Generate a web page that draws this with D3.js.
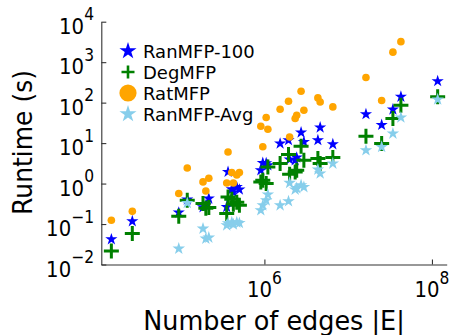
<!DOCTYPE html>
<html>
<head>
<meta charset="utf-8">
<script src="https://cdn.jsdelivr.net/npm/d3@7"></script>
<style>
  html, body { margin: 0; padding: 0; background: #fff; }
  text { font-family: "DejaVu Sans", sans-serif; fill: #000; }
</style>
</head>
<body>
<div id="chart"></div>
<script>
// number of edges of each graph (shared x)
const edges = [1.49e4, 2.65e4, 9.5e4, 1.2e5, 1.85e5, 2.0e5, 2.17e5, 3.55e5, 3.68e5, 4.08e5,
  4.26e5, 4.68e5, 5.03e5, 9.06e5, 9.57e5, 1.05e6, 1.1e6, 1.54e6, 1.94e6, 2.0e6,
  2.33e6, 2.43e6, 2.74e6, 2.96e6, 4.35e6, 4.63e6, 6.56e6, 1.63e7, 2.51e7, 3.42e7,
  4.26e7, 1.17e8];

// runtimes in seconds
const ranMFP100 = [0.0419, 0.117, 0.192, 0.402, 0.26, 0.29, 0.426, 0.264, 1.94, 0.72,
  0.61, 0.82, 0.71, 2.13, 3.23, 3.18, 2.84, 9.76, 11.8, 3.92,
  3.77, 4.40, 18.3, 10.7, 11.8, 24.3, 9.38, 51.8, 28.1, 67.6,
  140, 339];
const degMFP = [0.0215, 0.058, 0.155, 0.386, 0.32, 0.245, 0.255, 0.181, 0.466, 0.409,
  0.308, 0.345, 0.29, 1.10, 1.21, 1.0, 2.57, 3.12, 5.21, 1.70,
  1.94, 2.13, 8.37, 3.77, 4.15, 3.12, 4.40, 14.8, 9.76, 40.5,
  86.4, 139];
const ratMFP = [0.124, 0.206, 0.566, 2.43, 1.10, 0.656, 1.35, 1.03, 6.05, 1.87,
  1.03, 1.63, 1.87, 26.1, 8.13, 42.9, 22.0, 68.8, 108.6, 14.2,
  40.5, 48.9, 191.8, 65.0, 131, 104, 78.5, 419, 113, 1770,
  3214, null];
const ranMFPAvg = [null, null, 0.0247, 0.331, 0.077, 0.0436, 0.0462, 0.093, 0.104, 0.110,
  0.098, 0.110, 0.106, 0.219, 0.29, 0.386, 0.535, 0.29, 0.365, 1.04,
  0.71, 0.77, 0.91, 0.82, 2.22, 1.77, 3.12, 6.66, 8.04, 17.2,
  42.9, 120];

const xTicks = [1e6, 1e8];
const yTicks = [1e-2, 1e-1, 1e0, 1e1, 1e2, 1e3, 1e4];
const seriesNames = ['RanMFP-100', 'DegMFP', 'RatMFP', 'RanMFP-Avg'];

const width = 451, height = 335;
const svg = d3.select('#chart').append('svg')
  .attr('width', width).attr('height', height);

const x = d3.scaleLog().domain([1.13e4, 1.5e8]).range([101.3, 446.7]);
const y = d3.scaleLog().domain([1e-2, 1e4]).range([264.5, 21.7]);

// star path, matplotlib-like proportions
function starPath(r) {
  const inner = r * 0.382;
  const pts = [];
  for (let i = 0; i < 10; i++) {
    const a = -Math.PI / 2 + i * Math.PI / 5;
    const rr = i % 2 === 0 ? r : inner;
    pts.push([rr * Math.cos(a), rr * Math.sin(a)]);
  }
  return 'M' + pts.map(p => p[0].toFixed(2) + ',' + p[1].toFixed(2)).join('L') + 'Z';
}
function plusPath(h) {
  return `M${-h},0L${h},0M0,${-h}L0,${h}`;
}

const styles = [
  {color: '#0000ff', type: 'star', size: 6.4, lsize: 9},
  {color: '#008000', type: 'plus', size: 7.5, lsize: 6.5, sw: 3, lsw: 2.6},
  {color: '#ffa500', type: 'circle', size: 3.8, lsize: 8.6},
  {color: '#87ceeb', type: 'star', size: 6.6, lsize: 9}
];
const seriesValues = [ranMFP100, degMFP, ratMFP, ranMFPAvg];

function drawMarker(g, st, big) {
  const s = big ? st.lsize : st.size;
  if (st.type === 'star') {
    g.append('path').attr('d', starPath(s)).attr('fill', st.color);
  } else if (st.type === 'plus') {
    g.append('path').attr('d', plusPath(s)).attr('stroke', st.color)
      .attr('stroke-width', big ? st.lsw : st.sw).attr('fill', 'none');
  } else {
    g.append('circle').attr('r', s).attr('fill', st.color);
  }
}

// axes
const axisColor = '#333';
const xAxis = svg.append('g').attr('transform', `translate(0,${y.range()[0]})`)
  .call(d3.axisBottom(x).tickValues(xTicks).tickSizeInner(-5).tickSizeOuter(0).tickFormat(''));
const yAxis = svg.append('g').attr('transform', `translate(${x.range()[0]},0)`)
  .call(d3.axisLeft(y).tickValues(yTicks).tickSizeInner(-5).tickSizeOuter(0).tickFormat(''));
[xAxis, yAxis].forEach(a => {
  a.selectAll('path, line').attr('stroke', axisColor).attr('stroke-width', 1.1);
});

function expLabel(v) {
  const e = Math.round(Math.log10(v));
  return e < 0 ? '\u2212' + (-e) : String(e);
}

// y tick labels
yTicks.forEach(v => {
  const t = svg.append('text')
    .attr('transform', `translate(94,${y(v) + 12}) scale(1,1.12)`)
    .attr('text-anchor', 'end');
  t.append('tspan').attr('font-size', 19.7).text('10');
  t.append('tspan').attr('font-size', 15.5).attr('dy', -12).text(expLabel(v));
});

// x tick labels
xTicks.forEach(v => {
  const t = svg.append('text')
    .attr('transform', `translate(${x(v)},${y.range()[0] + 32}) scale(1,1.12)`)
    .attr('text-anchor', 'middle');
  t.append('tspan').attr('font-size', 19.7).text('10');
  t.append('tspan').attr('font-size', 15.5).attr('dy', -11).text(expLabel(v));
});

// axis labels
svg.append('text')
  .attr('transform', 'translate(274,330) scale(1,1.07)')
  .attr('text-anchor', 'middle').attr('font-size', 25.5)
  .text('Number of edges |E|');
svg.append('text')
  .attr('transform', 'translate(32.3,142.5) rotate(-90) scale(1,1.07)')
  .attr('text-anchor', 'middle').attr('font-size', 25)
  .text('Runtime (s)');

// points
seriesValues.forEach((vals, si) => {
  const st = styles[si];
  const pts = edges.map((e, i) => ({e, v: vals[i]})).filter(d => d.v != null);
  const g = svg.append('g').attr('class', 'series-' + si);
  pts.forEach(d => {
    const m = g.append('g').attr('transform', `translate(${x(d.e)},${y(d.v)})`);
    drawMarker(m, st, false);
  });
});

// legend
const legend = svg.append('g');
seriesNames.forEach((name, i) => {
  const cy = 51 + i * 21;
  const m = legend.append('g').attr('transform', `translate(128,${cy})`);
  drawMarker(m, styles[i], true);
  legend.append('text')
    .attr('x', 143).attr('y', cy + 7)
    .attr('font-size', 18)
    .text(name);
});
</script>
</body>
</html>
